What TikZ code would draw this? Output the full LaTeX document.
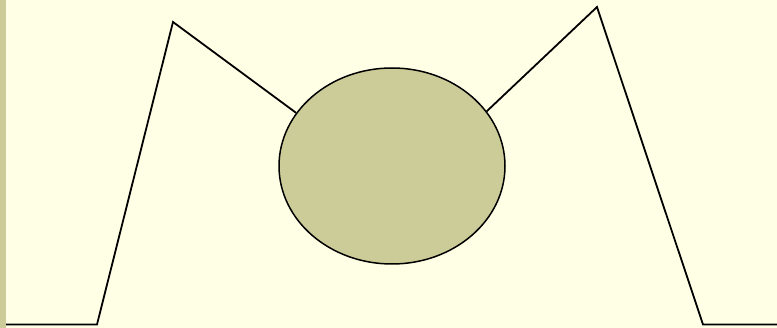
\documentclass[tikz,border=0pt]{standalone}
\usepackage{xcolor}
\usepackage{tikz}
\usetikzlibrary{shapes.geometric}
\definecolor{paper}{RGB}{255,255,230}
\definecolor{olive}{RGB}{204,204,153}

\begin{document}
\begin{tikzpicture}[x=1pt, y=-1pt,
  outline/.style={black, line width=1.8pt, line join=miter},
  blob/.style={ellipse, draw=black, line width=1.5pt, fill=olive,
    minimum width=226pt, minimum height=196pt, inner sep=0pt}]
  % Background and left strip
  \fill[paper] (0,0) rectangle (777,328);
  \useasboundingbox (0,0) rectangle (777,328);
  \fill[olive] (0,0) rectangle (6,328);

  % Central body
  \node[blob] (body) at (392,166) {};

  % Outline points
  \coordinate (lend) at (6,324.5);
  \coordinate (lfoot) at (97,324.5);
  \coordinate (lpeak) at (173,22);
  \coordinate (rpeak) at (597,7);
  \coordinate (rfoot) at (703,324.5);
  \coordinate (rend) at (777,324.5);

  % Left arm
  \draw[outline] (lend) -- (lfoot) -- (lpeak) -- (body.151);
  % Right arm
  \draw[outline] (body.30) -- (rpeak) -- (rfoot) -- (rend);
\end{tikzpicture}
\end{document}
